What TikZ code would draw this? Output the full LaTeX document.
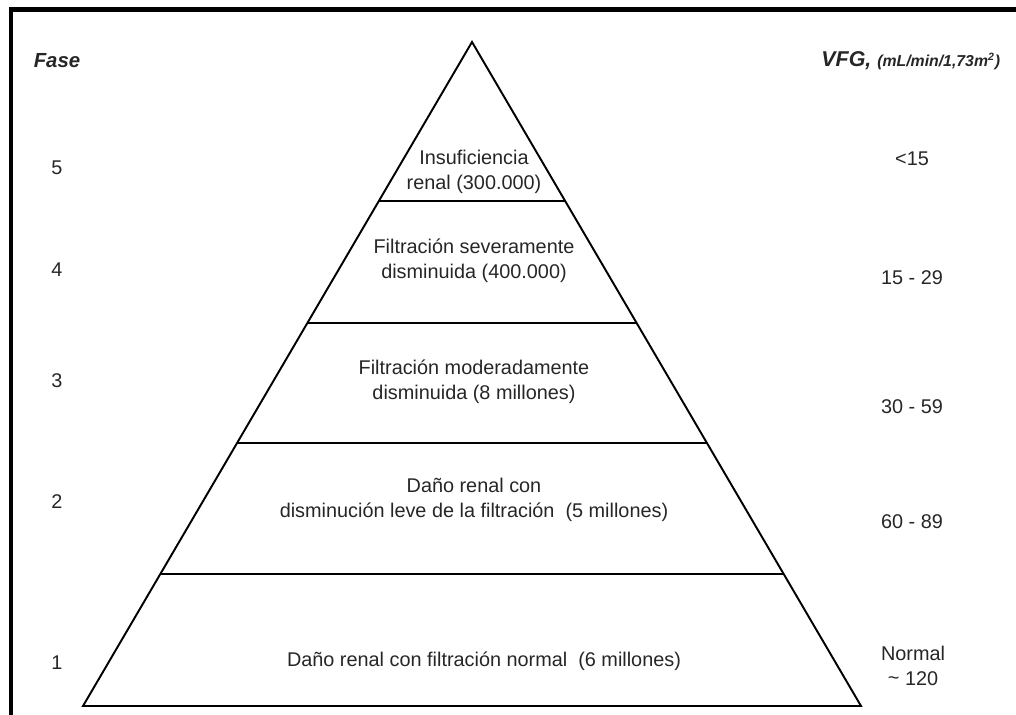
\documentclass[tikz,border=0pt]{standalone}
\usepackage{fontspec}
\setmainfont{Liberation Sans}
\usetikzlibrary{calc}
\tikzset{
	lbl/.style={text=black!85, font=\fontsize{11.3}{14.4}\selectfont, align=center, inner sep=0pt},
	head/.style={text=black!85, font=\fontsize{11.6}{13}\selectfont\bfseries\itshape, inner sep=0pt},
	layer/.style={line width=0.6pt}
}
\begin{document}
\begin{tikzpicture}[x=0.02cm, y=-0.02cm]
		\useasboundingbox (0,0) rectangle (1016,715);

		% frame
		\draw[line width=2.3pt] (11,715) -- (11,9.5) -- (1016,9.5);

		% pyramid
		\coordinate (apex) at (472,42);
		\coordinate (bl) at (83,706);
		\coordinate (br) at (861,706);
		\draw[line width=1.1pt, line join=miter] (apex) -- (bl) -- (br) -- cycle;

		\draw[layer] ($(apex)!0.2395!(bl)$) -- ($(apex)!0.2395!(br)$);
		\draw[layer] ($(apex)!0.4232!(bl)$) -- ($(apex)!0.4232!(br)$);
		\draw[layer] ($(apex)!0.6039!(bl)$) -- ($(apex)!0.6039!(br)$);
		\draw[layer] ($(apex)!0.8012!(bl)$) -- ($(apex)!0.8012!(br)$);

		% headers
		\node[head] (fase) at (57,61) {Fase};
		\node[head, anchor=base west, font=\fontsize{12.2}{14}\selectfont\bfseries\itshape] (vfg) at (821,67) {VFG, {\fontsize{9}{10}\selectfont (mL/min/1,73m\textsuperscript{2})}};

		% stages
		\node[lbl] (f5) at (57,168) {5};
		\node[lbl] (f4) at (57,270) {4};
		\node[lbl] (f3) at (57,381) {3};
		\node[lbl] (f2) at (57,502) {2};
		\node[lbl] (f1) at (57,663) {1};

		% layer texts
		\node[lbl] (t5) at (474,172) {Insuficiencia\\renal (300.000)};
		\node[lbl] (t4) at (474,261) {Filtración severamente\\disminuida (400.000)};
		\node[lbl] (t3) at (474,382) {Filtración moderadamente\\disminuida (8 millones)};
		\node[lbl] (t2) at (474,500) {Daño renal con\\disminución leve de la filtración~ (5 millones)};
		\node[lbl] (t1) at (484,661) {Daño renal con filtración normal~ (6 millones)};

		% filtration values
		\node[lbl] (v5) at (912,159) {<15};
		\node[lbl] (v4) at (912,278) {15 - 29};
		\node[lbl] (v3) at (912,407) {30 - 59};
		\node[lbl] (v2) at (912,522) {60 - 89};
		\node[lbl] (v1) at (913,666) {Normal\\{\raisebox{0.1ex}{\textasciitilde}} 120};
	\end{tikzpicture}
\end{document}
